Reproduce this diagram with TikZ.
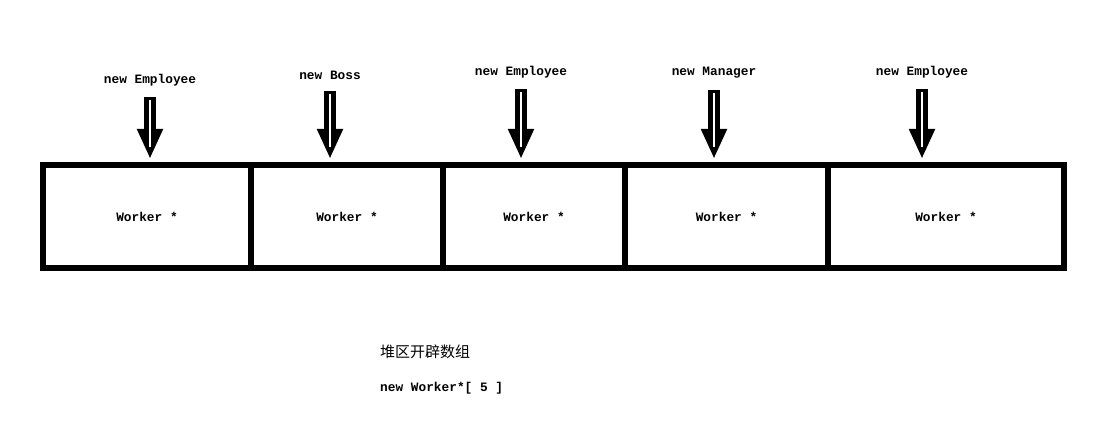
\documentclass[tikz,border=0pt]{standalone}
\usepackage{fontspec}
\setmonofont{Liberation Mono}
\newfontfamily\cjkfont{Noto Sans CJK SC}
\usetikzlibrary{positioning,arrows.meta}

\begin{document}
\begin{tikzpicture}[
  x=1pt,y=1pt,
  every node/.style={font=\ttfamily\bfseries\fontsize{12.8}{14}\selectfont},
  slot/.style={rectangle,draw,line width=6pt,outer sep=0pt,inner sep=0pt,minimum height=103pt},
  ptr/.style={line width=12pt,-{Triangle[width=24pt,length=30pt]},shorten >=6pt,shorten <=8pt,
    postaction={draw=white,line width=2.6pt,-,shorten >=18pt,shorten <=11pt}},
  note/.style={anchor=west,inner sep=0pt}
  ]
  \useasboundingbox (0,0) rectangle (1099,420);

  % the five slots of the array
  \node [slot,minimum width=208pt,anchor=west] (W1) at (43,203.5) {Worker *};
  \node [slot,minimum width=192pt] (W2) [right=0pt of W1] {Worker *};
  \node [slot,minimum width=182pt] (W3) [right=0pt of W2] {Worker *};
  \node [slot,minimum width=203pt] (W4) [right=0pt of W3] {Worker *};
  \node [slot,minimum width=236pt] (W5) [right=0pt of W4] {Worker *};

  % objects created on the heap
  \node (N1) at (150,340) {new Employee};
  \node (N2) at (330,345) {new Boss};
  \node (N3) at (521,348) {new Employee};
  \node (N4) at (714,347) {new Manager};
  \node (N5) at (922,348) {new Employee};

  \draw[ptr] (N1.south) -- (N1.south |- W1.north);
  \draw[ptr] (N2.south) -- (N2.south |- W2.north);
  \draw[ptr] (N3.south) -- (N3.south |- W3.north);
  \draw[ptr] (N4.south) -- (N4.south |- W4.north);
  \draw[ptr] (N5.south) -- (N5.south |- W5.north);

  \node [note,font=\cjkfont\fontsize{15}{17}\selectfont] (HEAP) at (380,68) {堆区开辟数组};
  \node [note] (ARR) at (380,32) {new Worker*[ 5 ]};
\end{tikzpicture}
\end{document}
